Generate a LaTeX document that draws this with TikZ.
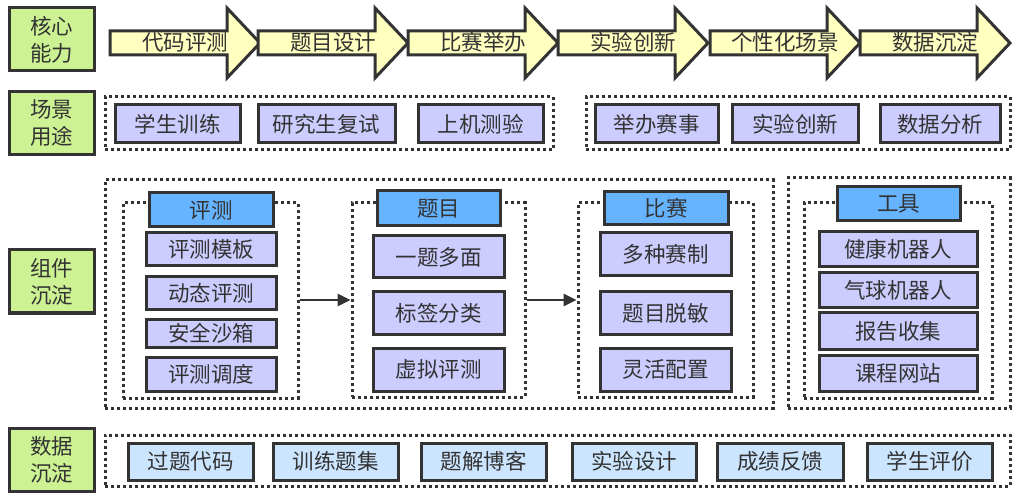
\documentclass[tikz,border=0pt]{standalone}
\usepackage{fontspec}
\setmainfont{Noto Sans CJK SC}
\usetikzlibrary{arrows.meta}
\definecolor{ink}{HTML}{333333}
\definecolor{lgreen}{HTML}{CCF294}
\definecolor{lyellow}{HTML}{FFFFC0}
\definecolor{lpurple}{HTML}{CCCCFF}
\definecolor{hblue}{HTML}{66B3FF}
\definecolor{lblue}{HTML}{CCE5FF}
\tikzset{
  txt/.style={font=\fontsize{21.5}{27}\selectfont, text=ink},
  solidbox/.style={draw=ink, line width=3pt, inner sep=0pt, txt},
  labelbox/.style={solidbox, fill=lgreen, align=center},
  itembox/.style={solidbox, fill=lpurple},
  headbox/.style={solidbox, fill=hblue},
  databox/.style={solidbox, fill=lblue},
  dotbox/.style={draw=ink, line width=3pt, dash pattern=on 3pt off 3pt, inner sep=0pt},
  flowarrow/.style={draw=ink, line width=3pt, fill=lyellow, line join=miter},
  link/.style={draw=ink, line width=2.8pt, -{Triangle[length=13pt,width=12pt]}},
}
\newcommand{\flowarr}[3]{%
  \draw[flowarrow] (#1,31) -- (#1+117,31) -- (#1+117,8) -- (#1+150,43) -- (#1+117,78) -- (#1+117,55) -- (#1,55) -- cycle;
  \node[txt, inner sep=0pt] (#2) at (#1+75,42) {#3};}
\begin{document}
\begin{tikzpicture}[x=1pt,y=-1pt]
\useasboundingbox (0,0) rectangle (1027,502);
% left labels
\node[labelbox, minimum width=85pt, minimum height=63pt] (L1) at (51.5,39.5) {核心\\能力};
\node[labelbox, minimum width=85pt, minimum height=63pt] (L2) at (51.5,123.5) {场景\\用途};
\node[labelbox, minimum width=85pt, minimum height=63pt] (L3) at (51.5,281.5) {组件\\沉淀};
\node[labelbox, minimum width=85pt, minimum height=63pt] (L4) at (51.5,459.5) {数据\\沉淀};
% top arrows
\flowarr{110}{a1}{代码评测}
\flowarr{258}{a2}{题目设计}
\flowarr{408}{a3}{比赛举办}
\flowarr{558}{a4}{实验创新}
\flowarr{710}{a5}{个性化场景}
\flowarr{860}{a6}{数据沉淀}
% row 2
\node[dotbox, minimum width=448pt, minimum height=53pt] (D1) at (329,123.5) {};
\node[dotbox, minimum width=424pt, minimum height=53pt] (D2) at (798,123.5) {};
\node[itembox, minimum width=125pt, minimum height=38pt] (s1) at (177.5,124) {学生训练};
\node[itembox, minimum width=137pt, minimum height=38pt] (s2) at (326.5,124) {研究生复试};
\node[itembox, minimum width=125pt, minimum height=38pt] (s3) at (480.5,124) {上机测验};
\node[itembox, minimum width=123pt, minimum height=38pt] (s4) at (656.5,124) {举办赛事};
\node[itembox, minimum width=126pt, minimum height=38pt] (s5) at (795,124) {实验创新};
\node[itembox, minimum width=120pt, minimum height=38pt] (s6) at (940,124) {数据分析};
% row 3 outer
\node[dotbox, minimum width=668pt, minimum height=228pt] (B) at (439,294) {};
\node[dotbox, minimum width=222pt, minimum height=230pt] (R) at (899,293) {};
% group 1
\node[dotbox, minimum width=175pt, minimum height=195pt] (G1) at (210.5,300.5) {};
\node[headbox, minimum width=124pt, minimum height=34pt] (H1) at (211,210) {评测};
\node[itembox, minimum width=130pt, minimum height=33pt] (g11) at (211,249.5) {评测模板};
\node[itembox, minimum width=130pt, minimum height=33pt] (g12) at (211,293.5) {动态评测};
\node[itembox, minimum width=130pt, minimum height=28pt] (g13) at (211,333) {安全沙箱};
\node[itembox, minimum width=130pt, minimum height=34pt] (g14) at (211,374) {评测调度};
% group 2
\node[dotbox, minimum width=173pt, minimum height=194pt] (G2) at (438.5,300) {};
\node[headbox, minimum width=123pt, minimum height=35pt] (H2) at (438.5,208.5) {题目};
\node[itembox, minimum width=131pt, minimum height=42pt] (g21) at (438.5,257) {一题多面};
\node[itembox, minimum width=131pt, minimum height=42pt] (g22) at (438.5,313) {标签分类};
\node[itembox, minimum width=131pt, minimum height=43pt] (g23) at (438.5,369.5) {虚拟评测};
% group 3
\node[dotbox, minimum width=175pt, minimum height=194pt] (G3) at (665.5,300) {};
\node[headbox, minimum width=124pt, minimum height=33pt] (H3) at (666,208.5) {比赛};
\node[itembox, minimum width=131pt, minimum height=43pt] (g31) at (665.5,254.5) {多种赛制};
\node[itembox, minimum width=131pt, minimum height=42pt] (g32) at (665.5,313) {题目脱敏};
\node[itembox, minimum width=131pt, minimum height=43pt] (g33) at (665.5,369.5) {灵活配置};
% group 4
\node[dotbox, minimum width=188pt, minimum height=195pt] (G4) at (898,300.5) {};
\node[headbox, minimum width=123pt, minimum height=34pt] (H4) at (898.5,204) {工具};
\node[itembox, minimum width=158pt, minimum height=35pt] (g41) at (898,249.5) {健康机器人};
\node[itembox, minimum width=158pt, minimum height=35pt] (g42) at (898,290.5) {气球机器人};
\node[itembox, minimum width=158pt, minimum height=36pt] (g43) at (898,331) {报告收集};
\node[itembox, minimum width=158pt, minimum height=36pt] (g44) at (898,373) {课程网站};
% connectors
\draw[link] (G1.east |- 0,300) -- (G2.west |- 0,300);
\draw[link] (G2.east |- 0,300) -- (G3.west |- 0,300);
% row 4
\node[dotbox, minimum width=905pt, minimum height=51pt] (D4) at (557.5,460.5) {};
\node[databox, minimum width=125pt, minimum height=37pt] (d1) at (190.5,461.5) {过题代码};
\node[databox, minimum width=125pt, minimum height=37pt] (d2) at (335.5,461.5) {训练题集};
\node[databox, minimum width=125pt, minimum height=37pt] (d3) at (483.5,461.5) {题解博客};
\node[databox, minimum width=124pt, minimum height=37pt] (d4) at (634,461.5) {实验设计};
\node[databox, minimum width=126pt, minimum height=37pt] (d5) at (780,461.5) {成绩反馈};
\node[databox, minimum width=125pt, minimum height=37pt] (d6) at (929.5,461.5) {学生评价};
\end{tikzpicture}
\end{document}
